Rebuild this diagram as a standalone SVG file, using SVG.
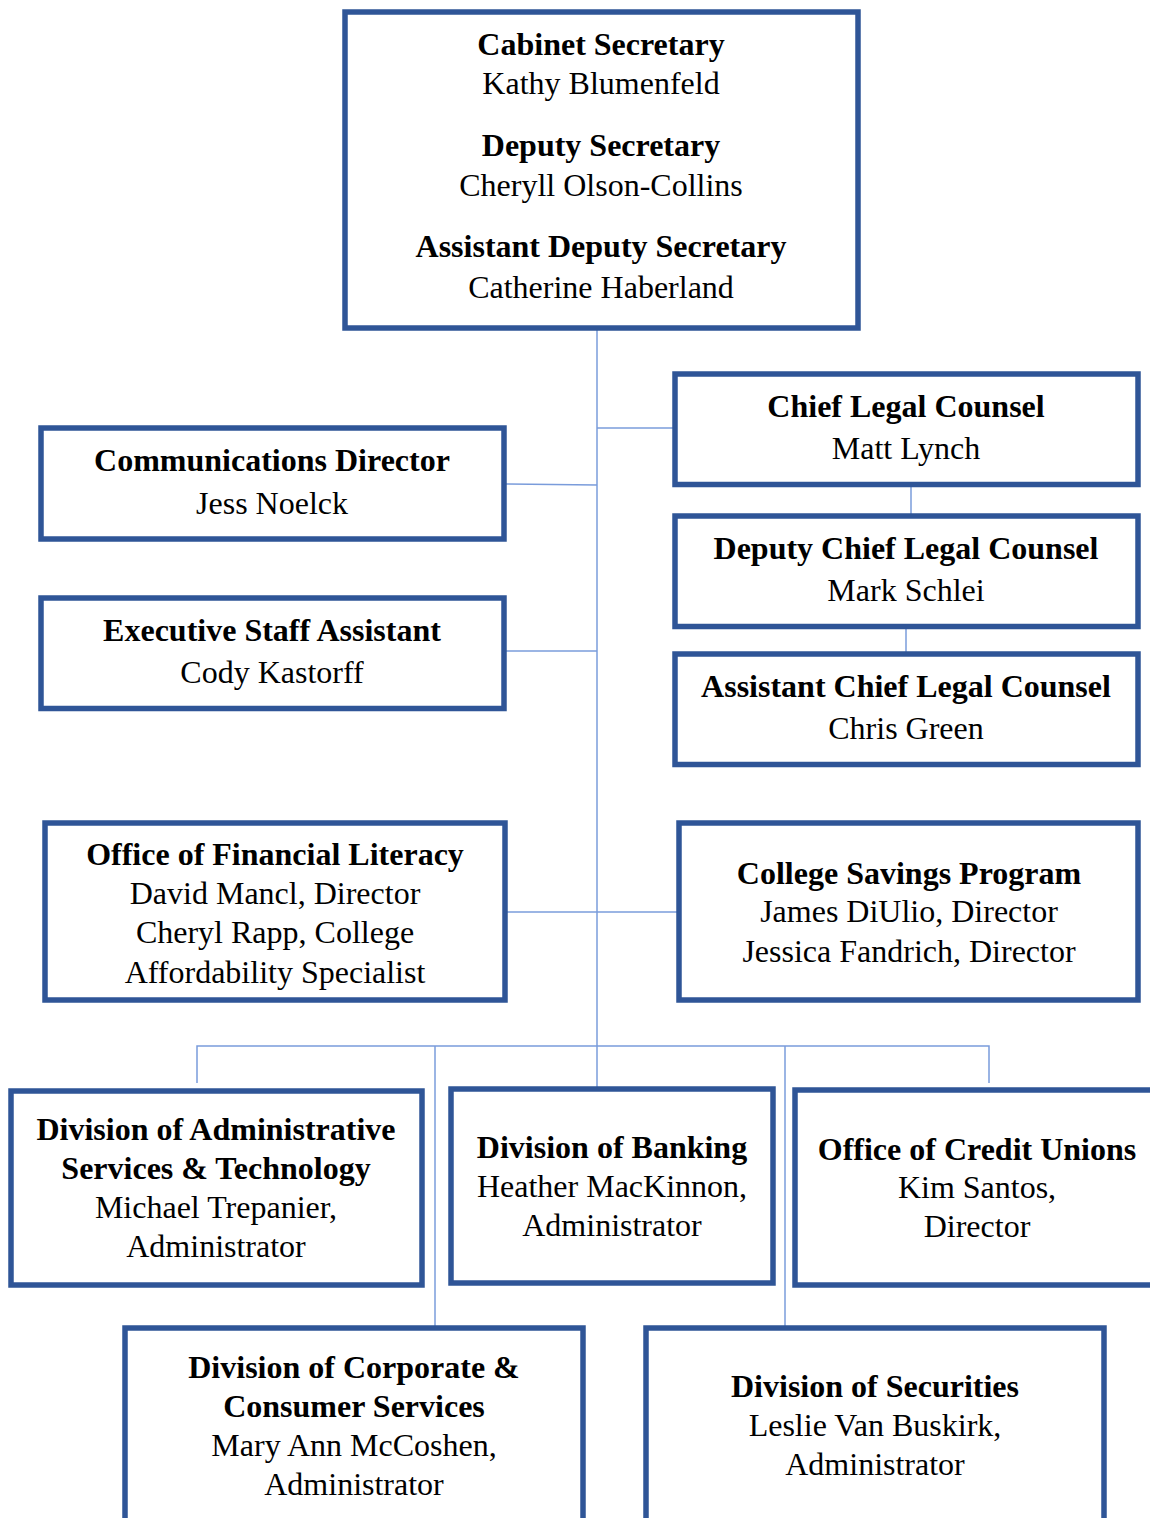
<svg xmlns="http://www.w3.org/2000/svg" width="1150" height="1518" viewBox="0 0 1150 1518">
<style>
.box{fill:#fff;stroke:#2F5597;stroke-width:5.5}
.ln{stroke:#7A9CDB;stroke-width:1.5;fill:none}
text{font-family:"Liberation Serif","Times New Roman",serif;font-size:32px;fill:#000;text-anchor:middle}
.b{font-weight:bold}
</style>
<rect width="1150" height="1518" fill="#fff"/>
<g id="connectors">
<line class="ln" x1="597" y1="330" x2="597" y2="1087"/>
<line class="ln" x1="597" y1="428" x2="673" y2="428"/>
<line class="ln" x1="505" y1="484" x2="597" y2="485"/>
<line class="ln" x1="505" y1="651" x2="597" y2="651"/>
<line class="ln" x1="506" y1="912" x2="677" y2="912"/>
<line class="ln" x1="911" y1="486" x2="911" y2="514"/>
<line class="ln" x1="906" y1="628" x2="906" y2="652"/>
<polyline class="ln" points="197,1083 197,1046 989,1046 989,1083"/>
<line class="ln" x1="435" y1="1046" x2="435" y2="1326"/>
<line class="ln" x1="785" y1="1046" x2="785" y2="1326"/>
</g>
<g id="cabinet">
<rect class="box" x="345" y="12" width="513" height="316"/>
<text x="601" y="55" class="b">Cabinet Secretary</text>
<text x="601" y="94">Kathy Blumenfeld</text>
<text x="601" y="156" class="b">Deputy Secretary</text>
<text x="601" y="196">Cheryll Olson-Collins</text>
<text x="601" y="257" class="b">Assistant Deputy Secretary</text>
<text x="601" y="298">Catherine Haberland</text>
</g>
<g id="chief-legal">
<rect class="box" x="675" y="374" width="463" height="110.5"/>
<text x="906" y="417" class="b">Chief Legal Counsel</text>
<text x="906" y="459">Matt Lynch</text>
</g>
<g id="deputy-legal">
<rect class="box" x="675" y="516" width="463" height="110.5"/>
<text x="906" y="559" class="b">Deputy Chief Legal Counsel</text>
<text x="906" y="601">Mark Schlei</text>
</g>
<g id="assistant-legal">
<rect class="box" x="675" y="654" width="463" height="110.5"/>
<text x="906" y="697" class="b">Assistant Chief Legal Counsel</text>
<text x="906" y="739">Chris Green</text>
</g>
<g id="communications">
<rect class="box" x="41" y="428" width="463" height="111"/>
<text x="272" y="471" class="b">Communications Director</text>
<text x="272" y="514">Jess Noelck</text>
</g>
<g id="exec-assistant">
<rect class="box" x="41" y="598" width="463" height="110.5"/>
<text x="272" y="641" class="b">Executive Staff Assistant</text>
<text x="272" y="683">Cody Kastorff</text>
</g>
<g id="financial-literacy">
<rect class="box" x="45" y="823" width="460" height="177"/>
<text x="275" y="865" class="b">Office of Financial Literacy</text>
<text x="275" y="904">David Mancl, Director</text>
<text x="275" y="943">Cheryl Rapp, College</text>
<text x="275" y="983">Affordability Specialist</text>
</g>
<g id="college-savings">
<rect class="box" x="679" y="823" width="459" height="177"/>
<text x="909" y="884" class="b">College Savings Program</text>
<text x="909" y="922">James DiUlio, Director</text>
<text x="909" y="962">Jessica Fandrich, Director</text>
</g>
<g id="admin-tech">
<rect class="box" x="11" y="1091" width="411" height="194"/>
<text x="216" y="1140" class="b">Division of Administrative</text>
<text x="216" y="1179" class="b">Services &amp; Technology</text>
<text x="216" y="1218">Michael Trepanier,</text>
<text x="216" y="1257">Administrator</text>
</g>
<g id="banking">
<rect class="box" x="451" y="1089" width="322" height="194"/>
<text x="612" y="1158" class="b">Division of Banking</text>
<text x="612" y="1197">Heather MacKinnon,</text>
<text x="612" y="1236">Administrator</text>
</g>
<g id="credit-unions">
<rect class="box" x="795" y="1090" width="370" height="195"/>
<text x="977" y="1160" class="b">Office of Credit Unions</text>
<text x="977" y="1198">Kim Santos,</text>
<text x="977" y="1237">Director</text>
</g>
<g id="corporate">
<rect class="box" x="125" y="1328" width="458" height="200"/>
<text x="354" y="1378" class="b">Division of Corporate &amp;</text>
<text x="354" y="1417" class="b">Consumer Services</text>
<text x="354" y="1456">Mary Ann McCoshen,</text>
<text x="354" y="1495">Administrator</text>
</g>
<g id="securities">
<rect class="box" x="646" y="1328" width="458" height="200"/>
<text x="875" y="1397" class="b">Division of Securities</text>
<text x="875" y="1436">Leslie Van Buskirk,</text>
<text x="875" y="1475">Administrator</text>
</g>
</svg>
